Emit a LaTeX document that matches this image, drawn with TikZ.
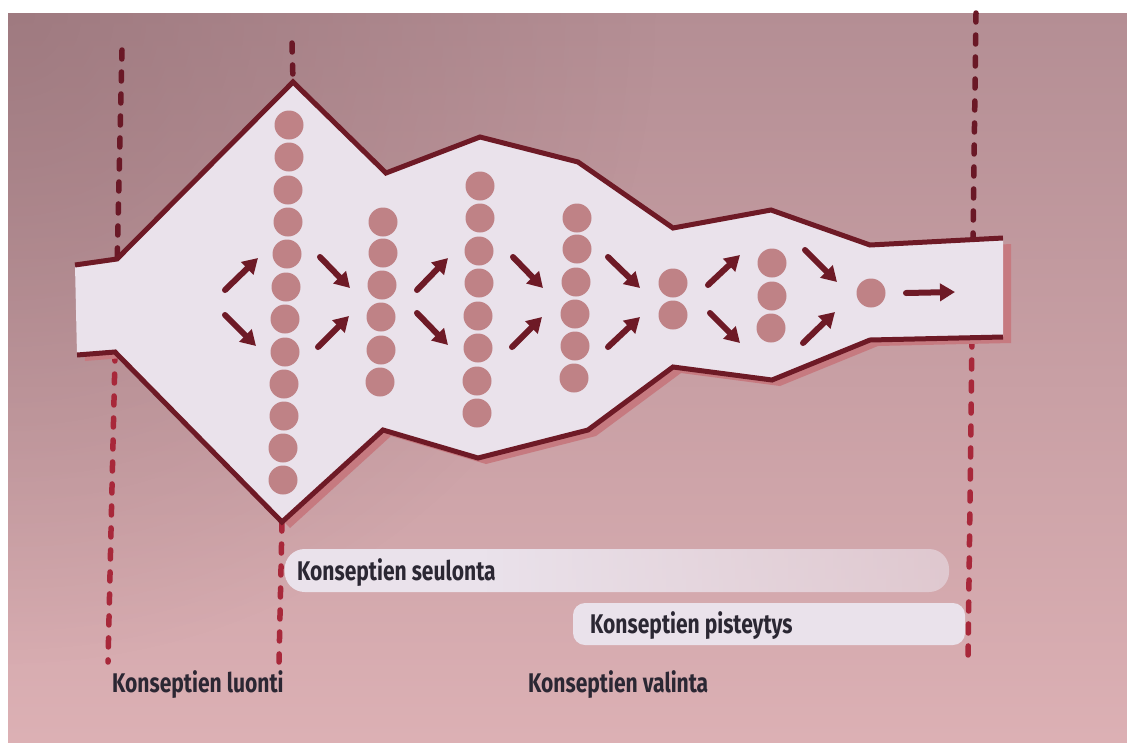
\documentclass[tikz,border=0pt]{standalone}
\usepackage{fontspec}
\newfontfamily\lblfont{Fira Sans}[FakeStretch=0.78]
\usetikzlibrary{arrows.meta,fadings}

\definecolor{bgtop}{HTML}{B48E94}
\definecolor{bgmid}{HTML}{C9A1A5}
\definecolor{bgbot}{HTML}{DDB1B5}
\definecolor{bgdark}{HTML}{8E6A70}
\definecolor{wine}{HTML}{6E1A26}
\definecolor{dashtop}{HTML}{6A1826}
\definecolor{dashbot}{HTML}{A8283A}
\definecolor{shadowred}{HTML}{C67A80}
\definecolor{paleface}{HTML}{EAE2EB}
\definecolor{dotfill}{HTML}{BF8286}
\definecolor{ink}{HTML}{2B2733}

% mask for the first bar: opaque on the left, dissolving towards the right
\pgfdeclarehorizontalshading{barmask}{100bp}{color(0bp)=(white); color(40bp)=(white); color(75bp)=(white!55!black); color(100bp)=(black)}
\pgfdeclarefading{barfade}{\pgfuseshading{barmask}}
% soft darkening of the upper left paper corner
\tikzfading[name=cornerglow, inner color=transparent!45, outer color=transparent!100]

\tikzset{
  phase/.style={line width=5.5pt, line cap=round, dash pattern=on 9pt off 13pt},
  rim/.style={wine, line width=5pt, line join=miter},
  flow/.style={wine, line width=6pt, line cap=round, -{Triangle[length=15pt,width=17pt]}},
  idea/.style={dotfill},
  lbl/.style={inner sep=0pt, text=ink, font=\lblfont\bfseries\fontsize{27}{31}\selectfont},
}

\begin{document}
\begin{tikzpicture}[x=1pt,y=-1pt]
\useasboundingbox (0,0) rectangle (1127,742);
\fill[white] (0,0) rectangle (1127,742);
% paper
\shade[top color=bgtop, middle color=bgmid, bottom color=bgbot] (8,13) rectangle (1140,760);
\fill[bgdark, path fading=cornerglow] (8,13) circle (650);
\fill[white] (0,0) rectangle (8,760);
\fill[white] (0,0) rectangle (1140,13);

% phase boundaries
\draw[phase, dashtop] (122,50) -- (117.2,259);
\draw[phase, dashbot] (115.1,352) -- (108,662);
\draw[phase, dashtop] (292,43) -- (293,82);
\draw[phase, dashbot] (282,522) -- (279,662);
\draw[phase, dashtop] (976,13) -- (973,238);
\draw[phase, dashbot] (972,338) -- (968,662);

% funnel
\def\funnelpath{(75,265) -- (117,259) -- (293,82) -- (386,173) -- (480,137) -- (578,162) -- (673,228) -- (771,210) -- (870,245) -- (1003,238)
  -- (1003,337) -- (870,340) -- (772,380) -- (673,367) -- (588,430) -- (478,458) -- (383,430) -- (282,522) -- (115,352) -- (77,355) -- cycle}
\fill[shadowred, shift={(8,6)}] \funnelpath;
\fill[paleface] \funnelpath;
\draw[rim] (75,265) -- (117,259) -- (293,82) -- (386,173) -- (480,137) -- (578,162) -- (673,228) -- (771,210) -- (870,245) -- (1003,238);
\draw[rim] (1003,337) -- (870,340) -- (772,380) -- (673,367) -- (588,430) -- (478,458) -- (383,430) -- (282,522) -- (115,352) -- (77,355);

% concepts
\foreach \x/\y in {289/125, 289/157, 288/190, 288/222, 287/254, 286/287, 285/319, 285/352, 284/384, 284/416, 283/448, 283/480,
                   383/222, 383/253, 382/285, 381/317, 381/350, 380/382,
                   480/186, 480/218, 479/251, 479/283, 478/316, 478/348, 477/381, 477/413,
                   577/218, 577/249, 576/282, 575/314, 575/346, 574/378,
                   673/283, 673/315,
                   772/263, 772/296, 771/328,
                   871/293}
  \fill[idea] (\x,\y) circle (14.5);

% flow arrows
\draw[flow] (225,290) -- (258,258);
\draw[flow] (225,315) -- (256,346);
\draw[flow] (320,257) -- (350,288);
\draw[flow] (318,347) -- (349,316);
\draw[flow] (417,290) -- (448,258);
\draw[flow] (417,313) -- (448,345);
\draw[flow] (513,257) -- (543,288);
\draw[flow] (512,347) -- (542,317);
\draw[flow] (608,257) -- (640,288);
\draw[flow] (608,347) -- (640,317);
\draw[flow] (708,285) -- (740,255);
\draw[flow] (710,313) -- (740,343);
\draw[flow] (805,250) -- (837,282);
\draw[flow] (803,343) -- (835,312);
\draw[flow] (906,293) -- (955,292);

% stage bars
\fill[paleface, path fading=barfade, rounded corners=20pt] (285,549) rectangle (950,592);
\fill[paleface, rounded corners=12pt] (573,603) rectangle (965,645);

% labels
\node[lbl, anchor=base west] (seulonta) at (297,580) {Konseptien seulonta};
\node[lbl, anchor=base west] (pisteytys) at (590,633) {Konseptien pisteytys};
\node[lbl, anchor=base west] (luonti) at (112,692) {Konseptien luonti};
\node[lbl, anchor=base west] (valinta) at (528,692) {Konseptien valinta};
\end{tikzpicture}
\end{document}
